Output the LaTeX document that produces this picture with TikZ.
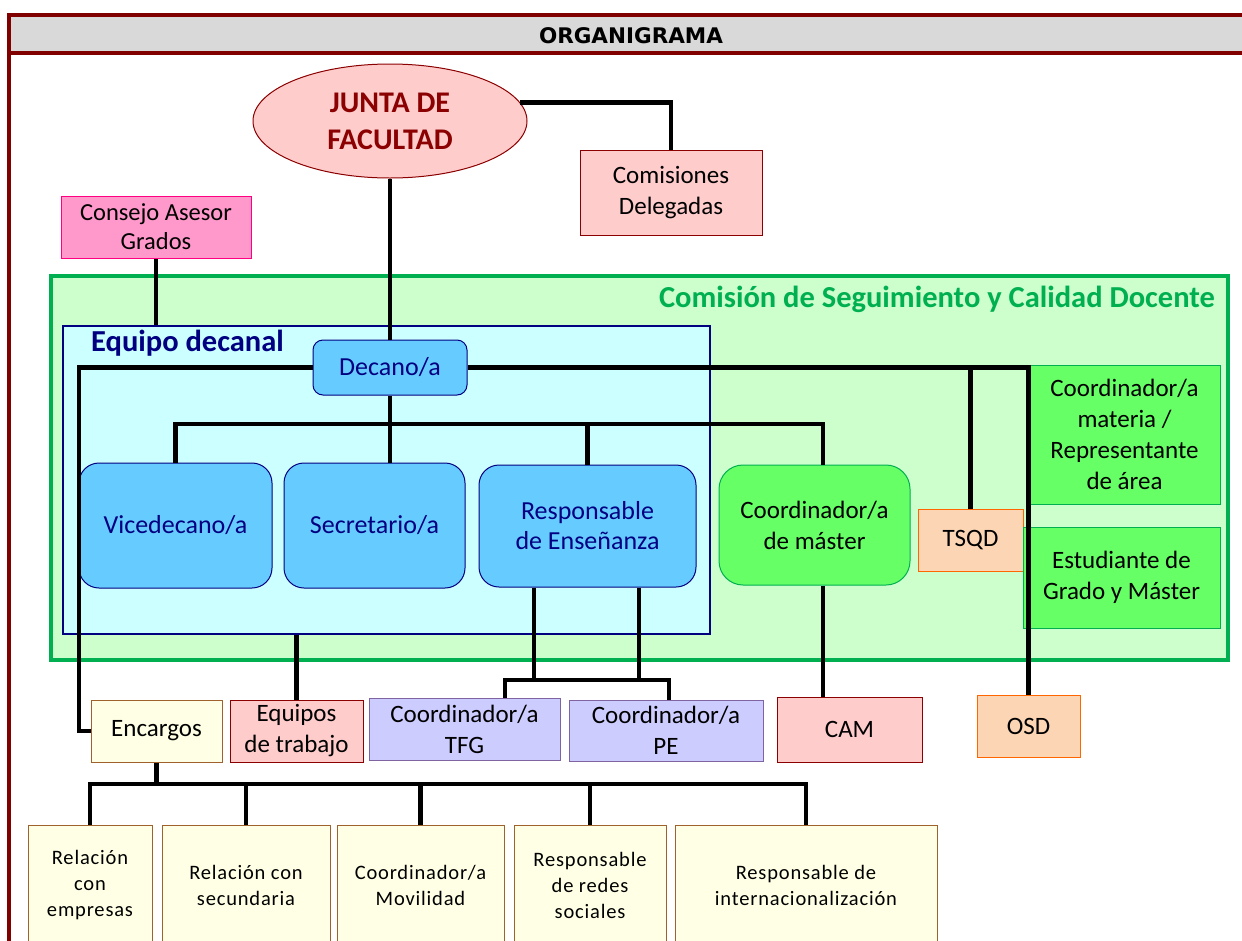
\documentclass[tikz,border=0pt]{standalone}
\usepackage{fontspec}
\setmainfont{Carlito}
\newfontfamily\hdrfont{DejaVu Sans}
\newfontfamily\smallfont[LetterSpace=4]{Carlito}
\usetikzlibrary{shapes.geometric,calc}
\definecolor{framered}{HTML}{800000}
\definecolor{hdrgray}{HTML}{D9D9D9}
\definecolor{juntared}{HTML}{8B0000}
\definecolor{pinkfill}{HTML}{FFCCCC}
\definecolor{consejofill}{HTML}{FF99CC}
\definecolor{consejoline}{HTML}{FF0080}
\definecolor{areagreen}{HTML}{CCFFCC}
\definecolor{areagreenline}{HTML}{00B050}
\definecolor{cyanfill}{HTML}{CCFFFF}
\definecolor{navy}{HTML}{000080}
\definecolor{bluefill}{HTML}{66CCFF}
\definecolor{greenfill}{HTML}{66FF66}
\definecolor{peachfill}{HTML}{FCD5B4}
\definecolor{orangeline}{HTML}{FF6600}
\definecolor{lilacfill}{HTML}{CCCCFF}
\definecolor{lilacline}{HTML}{8064A2}
\definecolor{creamfill}{HTML}{FFFFE5}
\definecolor{brownline}{HTML}{A0622D}
\begin{document}
\begin{tikzpicture}[x=1pt,y=-1pt,
  every node/.style={font=\fontsize{25}{31}\selectfont, align=center, inner sep=2pt},
  conn/.style={line width=4.5pt, black, line join=miter},
  basebox/.style={draw, rectangle, line width=1pt},
  pinkbox/.style={basebox, fill=pinkfill, draw=juntared},
  bluebox/.style={basebox, fill=bluefill, draw=navy, text=navy, rounded corners=20pt, font=\fontsize{26}{30}\selectfont},
  greenbox/.style={basebox, fill=greenfill, draw=areagreenline},
  peachbox/.style={basebox, fill=peachfill, draw=orangeline},
  lilacbox/.style={basebox, fill=lilacfill, draw=lilacline},
  creambox/.style={basebox, fill=creamfill, draw=brownline},
  smalltext/.style={font=\smallfont\fontsize{20.5}{26}\selectfont}
]
\useasboundingbox (0,0) rectangle (1242,940);
\clip (0,0) rectangle (1242,940);
\fill[white] (0,0) rectangle (1242,940);

% header frame
\fill[hdrgray] (9,15) rectangle (1250,53);
\draw[framered, line width=4pt] (1250,15) -- (9,15) -- (9,960);
\draw[framered, line width=4pt] (9,53) -- (1250,53);
\node[font=\hdrfont\bfseries\fontsize{21.5}{23}\selectfont] (hdr) at (631,36) {ORGANIGRAMA};

% areas
\node[draw=areagreenline, fill=areagreen, line width=4pt, minimum width=1177pt, minimum height=384pt, inner sep=0pt] (csc) at (639.5,468) {};
\node[anchor=east, text=areagreenline, font=\bfseries\fontsize{30.5}{34}\selectfont] (csctitle) at (1217,299) {Comisión de Seguimiento y Calidad Docente};
\node[draw=navy, fill=cyanfill, line width=2.5pt, minimum width=647pt, minimum height=308pt, inner sep=0pt] (equipo) at (386.5,480) {};
\node[anchor=west, text=navy, font=\bfseries\fontsize{30.5}{34}\selectfont] (equipotitle) at (89,343) {Equipo decanal};

% top nodes
\node[ellipse, draw=juntared, fill=pinkfill, line width=1pt, minimum width=274pt, minimum height=114pt, inner sep=0pt, text=juntared, font=\bfseries\fontsize{30}{37}\selectfont] (junta) at (390,121) {JUNTA DE\\FACULTAD};
\node[pinkbox, minimum width=182pt, minimum height=85pt] (comis) at (671,192.5) {Comisiones\\Delegadas};
\node[basebox, fill=consejofill, draw=consejoline, minimum width=190pt, minimum height=62pt, font=\fontsize{24.5}{29}\selectfont] (consejo) at (156,227) {Consejo Asesor\\Grados};

% equipo decanal members
\node[bluebox, rounded corners=10pt, minimum width=154pt, minimum height=55pt] (decano) at (390,367.5) {Decano/a};
\node[bluebox, minimum width=193pt, minimum height=125pt] (vice) at (175.5,525.5) {Vicedecano/a};
\node[bluebox, minimum width=181pt, minimum height=125pt] (secre) at (374.5,525.5) {Secretario/a};
\node[bluebox, minimum width=217pt, minimum height=122pt] (resp) at (587.5,526) {Responsable\\de Enseñanza};
\node[greenbox, rounded corners=24pt, minimum width=191pt, minimum height=120pt] (cmaster) at (814.5,525) {Coordinador/a\\de máster};
\node[peachbox, minimum width=105pt, minimum height=62pt] (tsqd) at (970.5,540) {TSQD};
\node[greenbox, minimum width=191pt, minimum height=139pt] (cmat) at (1124.5,434.5) {Coordinador/a\\materia /\\Representante\\de área};
\node[greenbox, minimum width=197pt, minimum height=101pt] (estud) at (1121.5,577.5) {Estudiante de\\Grado y Máster};

% second row
\node[creambox, minimum width=131pt, minimum height=62pt] (encargos) at (156.5,731) {Encargos};
\node[pinkbox, minimum width=133pt, minimum height=62pt] (equipos) at (296.5,731) {Equipos\\de trabajo};
\node[lilacbox, minimum width=191pt, minimum height=62pt] (tfg) at (464.5,729) {Coordinador/a\\TFG};
\node[lilacbox, minimum width=194pt, minimum height=61pt] (pe) at (666,730.5) {Coordinador/a\\PE};
\node[pinkbox, minimum width=145pt, minimum height=65pt] (cam) at (849.5,729.5) {CAM};
\node[peachbox, minimum width=103pt, minimum height=62pt] (osd) at (1028.5,726) {OSD};

% bottom row
\node[creambox, smalltext, minimum width=124pt, minimum height=120pt] (b1) at (90,885) {Relación\\con\\empresas};
\node[creambox, smalltext, minimum width=168pt, minimum height=120pt] (b2) at (246,885) {Relación con\\secundaria};
\node[creambox, smalltext, minimum width=167pt, minimum height=120pt] (b3) at (420.5,885) {Coordinador/a\\Movilidad};
\node[creambox, smalltext, minimum width=152pt, minimum height=120pt] (b4) at (590,885) {Responsable\\de redes\\sociales};
\node[creambox, smalltext, minimum width=262pt, minimum height=120pt] (b5) at (806,885) {Responsable de\\internacionalización};

% helper coordinates
\coordinate (hb) at (0,424);
\coordinate (hy) at (0,680);
\coordinate (ey) at (0,784);
\coordinate (lx) at (79,0);
\coordinate (mx) at (823,0);
\coordinate (r1) at ([xshift=-53.5pt]resp.south);
\coordinate (r2) at ([xshift=51.5pt]resp.south);
\coordinate (tfgtop) at ([xshift=40.5pt]tfg.north);
\coordinate (petop) at ([xshift=3pt]pe.north);

% connectors
\draw[conn] (junta.8) -| (comis.north);
\draw[conn] (junta.south) -- (decano.north);
\draw[conn] (consejo.south) -- (consejo.south |- equipo.north);
\draw[conn] (decano.west) -| (lx |- encargos.west) -- (encargos.west);
\draw[conn] (decano.east) -| (osd.north);
\draw[conn] (tsqd.north) -- (tsqd.north |- decano.east);
\draw[conn] (decano.south) -- (decano.south |- secre.north);
\draw[conn] (vice.north) |- (mx |- hb) -- (mx |- cmaster.north);
\draw[conn] (resp.north) -- (resp.north |- hb);
\draw[conn] (mx |- cmaster.south) -- (mx |- cam.north);
\draw[conn] (r1) -- (r1 |- hy);
\draw[conn] (r2) -- (r2 |- hy);
\draw[conn] (tfgtop) |- (petop |- hy) -- (petop);
\draw[conn] (equipos.north) -- (equipos.north |- equipo.south);
\draw[conn] (encargos.south) -- (encargos.south |- ey);
\draw[conn] (b1.north) |- (b5.north |- ey) -- (b5.north);
\draw[conn] (b2.north) -- (b2.north |- ey);
\draw[conn] (b3.north) -- (b3.north |- ey);
\draw[conn] (b4.north) -- (b4.north |- ey);
\end{tikzpicture}
\end{document}
